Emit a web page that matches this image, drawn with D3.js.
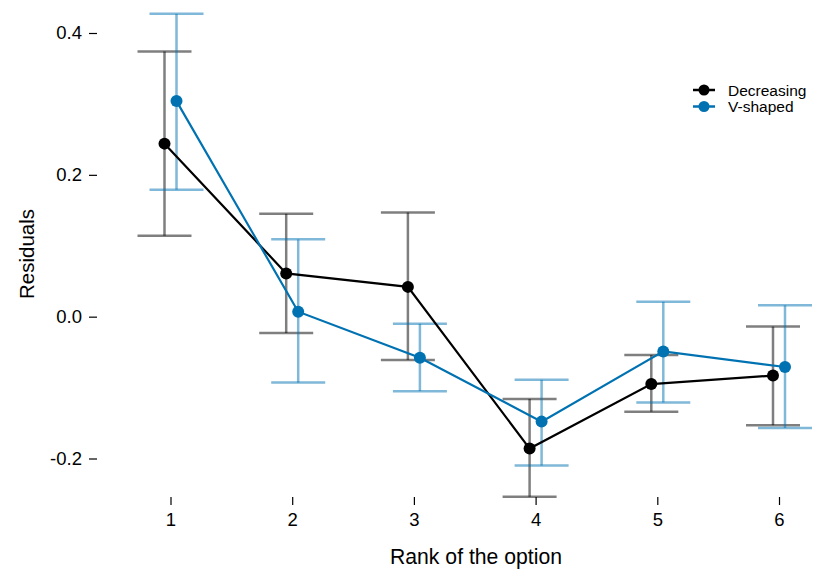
<!DOCTYPE html>
<html><head><meta charset="utf-8">
<script src="https://cdn.jsdelivr.net/npm/d3@7"></script>
<style>body{margin:0;background:#fff}svg{display:block;font-family:"Liberation Sans",Arial,sans-serif}</style>
</head><body><div id="chart"></div>
<script>
const ranks = [1, 2, 3, 4, 5, 6];
const seriesNames = ["Decreasing", "V-shaped"];
const decreasingMean = [0.244, 0.061, 0.042, -0.186, -0.095, -0.083];
const decreasingLow  = [0.114, -0.023, -0.061, -0.254, -0.134, -0.153];
const decreasingHigh = [0.374, 0.145, 0.147, -0.116, -0.054, -0.014];
const vshapedMean = [0.304, 0.007, -0.058, -0.148, -0.049, -0.071];
const vshapedLow  = [0.179, -0.093, -0.105, -0.210, -0.121, -0.157];
const vshapedHigh = [0.427, 0.109, -0.010, -0.089, 0.021, 0.016];
const yTicks = [-0.2, 0.0, 0.2, 0.4];
const yTickLabels = ["-0.2", "0.0", "0.2", "0.4"];
const colors = ["#000000", "#0072B2"];

const W = 814, H = 570;
const svg = d3.select("#chart").append("svg").attr("width", W).attr("height", H);

const x = d3.scaleLinear().domain([1, 6]).range([170.5, 779]);
const y = d3.scaleLinear().domain([-0.2, 0.4]).range([458.5, 33]);
const dodge = [-6, 6];

const series = [
  {name: seriesNames[0], mean: decreasingMean, low: decreasingLow, high: decreasingHigh},
  {name: seriesNames[1], mean: vshapedMean, low: vshapedLow, high: vshapedHigh}
];

// axes
const yAxis = d3.axisLeft(y).tickValues(yTicks).tickFormat((d, i) => yTickLabels[i]).tickSize(8).tickPadding(7);
const gy = svg.append("g").attr("transform", "translate(97,0)").call(yAxis);
gy.select(".domain").remove();
gy.selectAll("text").attr("font-size", 18.5).attr("fill", "#000").attr("font-family", "Liberation Sans, Arial, sans-serif");
gy.selectAll("line").attr("stroke", "#000").attr("stroke-width", 1.2);

const xAxis = d3.axisBottom(x).tickValues(ranks).tickFormat(d3.format("d")).tickSize(8).tickPadding(8);
const gx = svg.append("g").attr("transform", "translate(0,497)").call(xAxis);
gx.select(".domain").remove();
gx.selectAll("text").attr("font-size", 18.5).attr("fill", "#000").attr("font-family", "Liberation Sans, Arial, sans-serif");
gx.selectAll("line").attr("stroke", "#000").attr("stroke-width", 1.2);

svg.append("text").attr("x", 476).attr("y", 564).attr("text-anchor", "middle")
  .attr("font-size", 21.2).text("Rank of the option");
svg.append("text").attr("transform", "translate(34,254) rotate(-90)").attr("text-anchor", "middle")
  .attr("font-size", 20.5).text("Residuals");

// error bars
const errColors = ["rgba(0,0,0,0.5)", "rgba(0,114,178,0.5)"];
series.forEach((s, si) => {
  const g = svg.append("g");
  ranks.forEach((r, i) => {
    const cx = x(r) + dodge[si];
    g.append("line").attr("x1", cx).attr("x2", cx).attr("y1", y(s.low[i])).attr("y2", y(s.high[i]))
      .attr("stroke", errColors[si]).attr("stroke-width", 2.5);
    [s.low[i], s.high[i]].forEach(v => {
      g.append("line").attr("x1", cx - 27).attr("x2", cx + 27).attr("y1", y(v)).attr("y2", y(v))
        .attr("stroke", errColors[si]).attr("stroke-width", 2.5);
    });
  });
});

// lines and points
series.forEach((s, si) => {
  const line = d3.line().x((d, i) => x(ranks[i]) + dodge[si]).y(d => y(d));
  svg.append("path").datum(s.mean).attr("d", line).attr("fill", "none")
    .attr("stroke", colors[si]).attr("stroke-width", 2.2);
  svg.append("g").selectAll("circle").data(s.mean).join("circle")
    .attr("cx", (d, i) => x(ranks[i]) + dodge[si]).attr("cy", d => y(d)).attr("r", 6)
    .attr("fill", colors[si]);
});

// legend
const lg = svg.append("g");
seriesNames.forEach((n, i) => {
  const ly = 90 + i * 16.5;
  lg.append("line").attr("x1", 693).attr("x2", 715).attr("y1", ly).attr("y2", ly)
    .attr("stroke", colors[i]).attr("stroke-width", 2.5);
  lg.append("circle").attr("cx", 704).attr("cy", ly).attr("r", 5.5).attr("fill", colors[i]);
  lg.append("text").attr("x", 728).attr("y", ly + 5.8).attr("font-size", 15.5).text(n);
});
</script></body></html>
